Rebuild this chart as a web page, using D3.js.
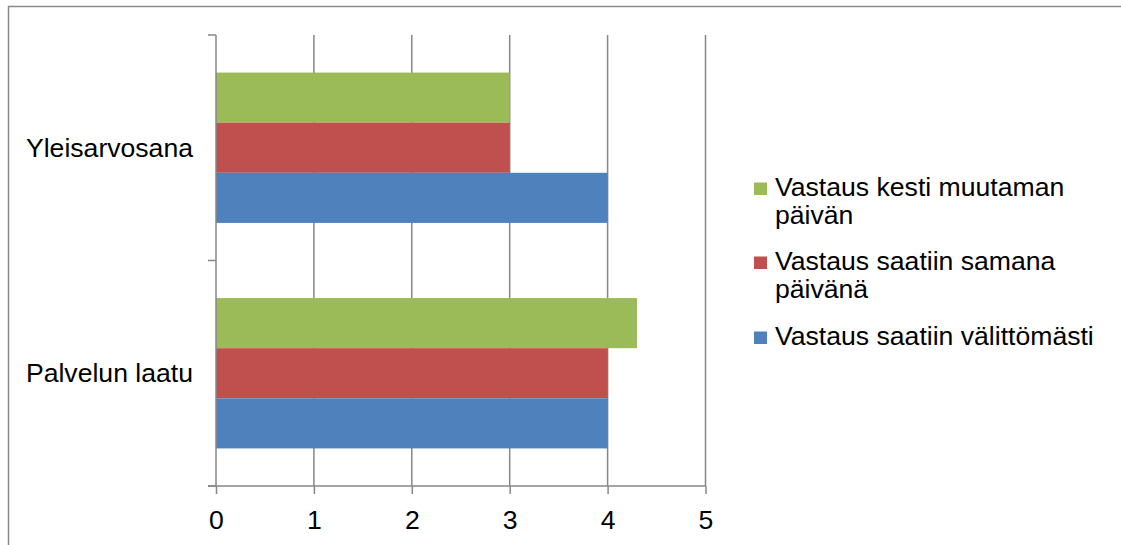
<!DOCTYPE html>
<html>
<head>
<meta charset="utf-8">
<script src="https://cdn.jsdelivr.net/npm/d3@7"></script>
<style>
  html, body { margin: 0; padding: 0; background: #fff; }
  svg { display: block; }
  text { font-family: "Liberation Sans", Arial, sans-serif; fill: #000; }
</style>
</head>
<body>
<svg id="chart" width="1121" height="545"></svg>
<script>
// Categories, top to bottom
const categories = ["Yleisarvosana", "Palvelun laatu"];
// Series (top bar within each group first)
const seriesNames = [
  "Vastaus kesti muutaman päivän",
  "Vastaus saatiin samana päivänä",
  "Vastaus saatiin välittömästi"
];
const seriesColors = ["#9BBB59", "#C0504D", "#4F81BD"];
const kestiMuutaman = [3, 4.3];
const samanaPaivana = [3, 4];
const valittomasti = [4, 4];
const xTicks = [0, 1, 2, 3, 4, 5];
// Legend labels wrapped onto lines
const legendLines = [
  ["Vastaus kesti muutaman", "päivän"],
  ["Vastaus saatiin samana", "päivänä"],
  ["Vastaus saatiin välittömästi"]
];

const seriesValues = [kestiMuutaman, samanaPaivana, valittomasti];

const svg = d3.select("#chart");
const gridColor = "#878787";
const fontSize = "26.6px";

// outer frame
svg.append("rect")
  .attr("x", 8.5).attr("y", 6.5)
  .attr("width", 1130).attr("height", 560)
  .attr("fill", "none").attr("stroke", "#8a8a8a").attr("stroke-width", 1.5);

const plot = { left: 216, right: 705.5, top: 35, bottom: 486 };

const x = d3.scaleLinear().domain([0, 5]).range([plot.left, plot.right]);
const y = d3.scaleBand().domain(categories).range([plot.top, plot.bottom]);
const inner = d3.scaleBand()
  .domain(d3.range(seriesNames.length))
  .range([y.bandwidth() / 6, y.bandwidth() * 5 / 6]);

// vertical gridlines
svg.append("g").selectAll("line")
  .data(xTicks.filter(d => d > 0))
  .join("line")
  .attr("x1", d => x(d)).attr("x2", d => x(d))
  .attr("y1", plot.top).attr("y2", plot.bottom)
  .attr("stroke", gridColor).attr("stroke-width", 1.5);

// bars
const groups = svg.append("g").selectAll("g")
  .data(categories)
  .join("g")
  .attr("transform", d => `translate(0,${y(d)})`);

groups.selectAll("rect")
  .data((c, ci) => seriesValues.map((vals, si) => ({ si, v: vals[ci] })))
  .join("rect")
  .attr("x", x(0))
  .attr("y", d => inner(d.si))
  .attr("width", d => x(d.v) - x(0))
  .attr("height", inner.bandwidth())
  .attr("fill", d => seriesColors[d.si]);

// x axis
const xAxis = d3.axisBottom(x).tickValues(xTicks).tickSize(8).tickSizeOuter(0).tickFormat(d3.format("d"));
const gx = svg.append("g").attr("transform", `translate(0,${plot.bottom})`).call(xAxis);
gx.select(".domain").attr("stroke", gridColor).attr("stroke-width", 1.5)
  .attr("d", `M${plot.left - 8},0H${plot.right}`);
gx.selectAll(".tick line").attr("stroke", gridColor).attr("stroke-width", 1.5);
gx.selectAll(".tick text")
  .attr("y", 43).attr("dy", null)
  .style("font-size", fontSize)
  .style("font-family", "Liberation Sans, Arial, sans-serif")
  .attr("fill", "#000");

// y axis line and category boundary ticks
svg.append("line")
  .attr("x1", plot.left).attr("x2", plot.left)
  .attr("y1", plot.top).attr("y2", plot.bottom)
  .attr("stroke", gridColor).attr("stroke-width", 1.5);
const boundaries = categories.map(c => y(c)).concat([plot.bottom]);
svg.append("g").selectAll("line")
  .data(boundaries)
  .join("line")
  .attr("x1", plot.left - 8).attr("x2", plot.left)
  .attr("y1", d => d).attr("y2", d => d)
  .attr("stroke", gridColor).attr("stroke-width", 1.5);

// category labels
svg.append("g").selectAll("text")
  .data(categories)
  .join("text")
  .attr("x", 193)
  .attr("y", d => y(d) + y.bandwidth() / 2 + 9)
  .attr("text-anchor", "end")
  .style("font-size", fontSize)
  .text(d => d);

// legend
const legendTop = [196, 270, 345];
const legend = svg.append("g").selectAll("g")
  .data(seriesNames)
  .join("g");
legend.append("rect")
  .attr("x", 754).attr("y", (d, i) => legendTop[i] - 13.5)
  .attr("width", 13).attr("height", 12.5)
  .attr("fill", (d, i) => seriesColors[i]);
legend.each(function (d, i) {
  d3.select(this).selectAll("text")
    .data(legendLines[i])
    .join("text")
    .attr("x", 775)
    .attr("y", (t, li) => legendTop[i] + li * 27.5)
    .style("font-size", fontSize)
    .text(t => t);
});
</script>
</body>
</html>
